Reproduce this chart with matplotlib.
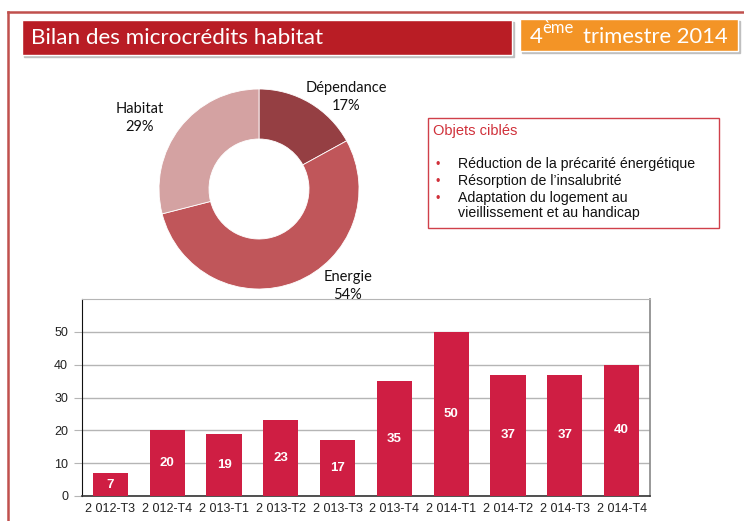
import matplotlib
matplotlib.use("Agg")
import matplotlib.pyplot as plt
from matplotlib.patches import Rectangle

# data
pie_labels = ["Dépendance", "Energie", "Habitat"]
pie_values = [17, 54, 29]
pie_colors = ["#953f43", "#c0565a", "#d4a2a2"]

quarters = ["2 012-T3", "2 012-T4", "2 013-T1", "2 013-T2", "2 013-T3",
            "2 013-T4", "2 014-T1", "2 014-T2", "2 014-T3", "2 014-T4"]
counts = [7, 20, 19, 23, 17, 35, 50, 37, 37, 40]

objectives = ["Réduction de la précarité énergétique",
              "Résorption de l\u2019insalubrité",
              "Adaptation du logement au\nvieillissement et au handicap"]

W, H = 744, 521
fig = plt.figure(figsize=(W / 100, H / 100), dpi=100)

# background layer in pixel coordinates
bg = fig.add_axes([0, 0, 1, 1])
bg.set_xlim(0, W)
bg.set_ylim(H, 0)
bg.axis("off")

# outer frame
bg.plot([8, 8], [H + 5, 12], color="#c0504d", lw=1.8)
bg.plot([8, W + 5], [12, 12], color="#c0504d", lw=1.8)

# title boxes with small shadow
bg.add_patch(Rectangle((24, 22), 490, 35, color="#bfbfbf", zorder=1))
bg.add_patch(Rectangle((22, 20), 490, 35, color="#b91d25", ec="white", lw=1, zorder=2))
bg.text(31, 38, "Bilan des microcrédits habitat", color="white", family="Lato",
        fontsize=16.2, va="center", ha="left", zorder=3)

bg.add_patch(Rectangle((522, 21), 218, 32, color="#bfbfbf", zorder=1))
bg.add_patch(Rectangle((520, 19), 218, 32, color="#f39426", ec="white", lw=1, zorder=2))
bg.text(530, 37, "4", color="white", family="Lato", fontsize=16, va="center", zorder=3)
bg.text(542, 28, "ème", color="white", family="Lato", fontsize=12, va="center", zorder=3)
bg.text(583, 37, "trimestre 2014", color="white", family="Lato", fontsize=15.8,
        va="center", zorder=3)

# objectives box
bg.add_patch(Rectangle((428, 118), 291, 110, fill=False, ec="#d0404a", lw=1))
bg.text(433, 131, "Objets ciblés", color="#d0303a", family="Liberation Sans",
        fontsize=10.5, va="center")
ys = [165, 182, 199]
for y, txt in zip(ys, objectives):
    bg.text(436, y, "\u2022", color="#d0303a", family="Liberation Sans",
            fontsize=9, va="center")
    bg.text(458, y - 8, txt, color="#111111", family="Liberation Sans",
            fontsize=10.2, va="top", linespacing=1.1)

# donut
pax = fig.add_axes([159 / W, (H - 289) / H, 200 / W, 200 / H])
pax.pie(pie_values, colors=pie_colors, startangle=90, counterclock=False,
        wedgeprops=dict(width=0.5, edgecolor="white", linewidth=0.6), radius=1)
pax.set_xlim(-1, 1)
pax.set_ylim(-1, 1)
pax.set_aspect("equal")

# bar chart
bax = fig.add_axes([82 / W, (H - 496) / H, 568 / W, (496 - 299) / H])
bax.patch.set_alpha(0)
x = range(len(quarters))
bars = bax.bar(x, counts, width=0.62, color="#cf1e43", zorder=3)
for b, v in zip(bars, counts):
    bax.text(b.get_x() + b.get_width() / 2, v / 2, str(v), ha="center", va="center",
             color="white", fontweight="bold", family="Liberation Sans", fontsize=9.5,
             zorder=4)
bax.set_xlim(-0.5, len(quarters) - 0.5)
bax.set_ylim(0, 60)
bax.set_yticks(range(0, 60, 10))
bax.set_xticks(list(x))
bax.set_xticklabels(quarters)
bax.yaxis.grid(True, color="#b5b5b5", lw=1, zorder=0)
bax.tick_params(axis="x", length=0, pad=5, labelsize=9)
bax.tick_params(axis="y", length=6, color="#b5b5b5", labelsize=9, pad=4)
for lab in bax.get_xticklabels() + bax.get_yticklabels():
    lab.set_family("Liberation Sans")
    lab.set_color("#222222")
bax.spines["left"].set_color("#111111")
bax.spines["bottom"].set_color("#333333")
bax.spines["right"].set_color("#888888")
bax.spines["top"].set_color("#b5b5b5")
bax.spines["bottom"].set_linewidth(1.2)
bax.spines["right"].set_linewidth(1.2)

# donut labels on top of everything
label_pos = [(346, 97), (348, 286), (140, 118)]
for (px, py), lab, v in zip(label_pos, pie_labels, pie_values):
    fig.text(px / W, 1 - py / H, f"{lab}\n{v}%", ha="center", va="center",
             family="Lato", fontsize=10.5, color="#111111", linespacing=1.3,
             zorder=10)

fig.savefig("out.png", dpi=100)
